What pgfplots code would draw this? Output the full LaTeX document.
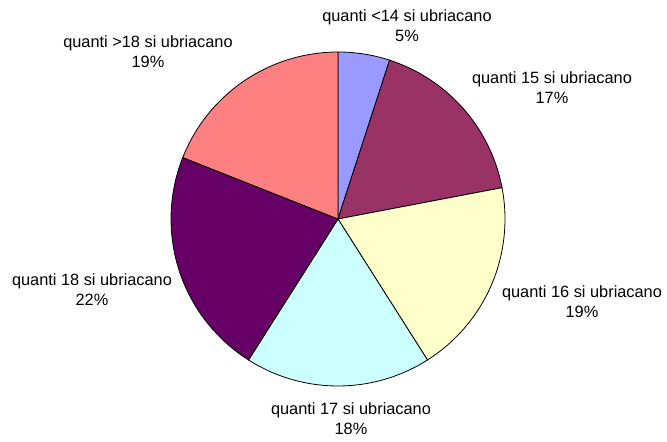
\documentclass[border=0pt]{standalone}
\usepackage{pgfplots}
\pgfplotsset{compat=1.18}
\usepackage{fontspec}
\setmainfont{Liberation Sans}
\definecolor{cA}{HTML}{9999FF}
\definecolor{cB}{HTML}{993366}
\definecolor{cC}{HTML}{FFFFCC}
\definecolor{cD}{HTML}{CCFFFF}
\definecolor{cE}{HTML}{660066}
\definecolor{cF}{HTML}{FF8080}
\begin{document}
\begin{tikzpicture}
\begin{axis}[
  width=667bp, height=442bp, scale only axis,
  xmin=0, xmax=667, ymin=0, ymax=442,
  hide axis, clip=false,
  every axis plot/.append style={draw=black, line width=0.8pt, samples=40, variable=\t},
]
% percentages: 5, 17, 19, 18, 22, 19 ; start at 90 deg, clockwise
\addplot[fill=cA, domain=72:90]     ({338+167*cos(\t)}, {223+167*sin(\t)}) -- (axis cs:338,223) -- cycle;
\addplot[fill=cB, domain=10.8:72]   ({338+167*cos(\t)}, {223+167*sin(\t)}) -- (axis cs:338,223) -- cycle;
\addplot[fill=cC, domain=-57.6:10.8]({338+167*cos(\t)}, {223+167*sin(\t)}) -- (axis cs:338,223) -- cycle;
\addplot[fill=cD, domain=-122.4:-57.6]({338+167*cos(\t)}, {223+167*sin(\t)}) -- (axis cs:338,223) -- cycle;
\addplot[fill=cE, domain=-201.6:-122.4]({338+167*cos(\t)}, {223+167*sin(\t)}) -- (axis cs:338,223) -- cycle;
\addplot[fill=cF, domain=-270:-201.6]({338+167*cos(\t)}, {223+167*sin(\t)}) -- (axis cs:338,223) -- cycle;
\tikzset{lab/.style={align=center, inner sep=0pt, font=\fontsize{16.4}{20}\selectfont}}
\node[lab] at (axis cs:407,416) {quanti <14 si ubriacano\\5\%};
\node[lab] at (axis cs:552,354.5) {quanti 15 si ubriacano\\17\%};
\node[lab] at (axis cs:582,140) {quanti 16 si ubriacano\\19\%};
\node[lab] at (axis cs:351,23) {quanti 17 si ubriacano\\18\%};
\node[lab] at (axis cs:92,152) {quanti 18 si ubriacano\\22\%};
\node[lab] at (axis cs:148,390) {quanti >18 si ubriacano\\19\%};
\end{axis}
\pgfresetboundingbox
\path (current axis.south west) rectangle (current axis.north east);
\end{tikzpicture}
\end{document}
